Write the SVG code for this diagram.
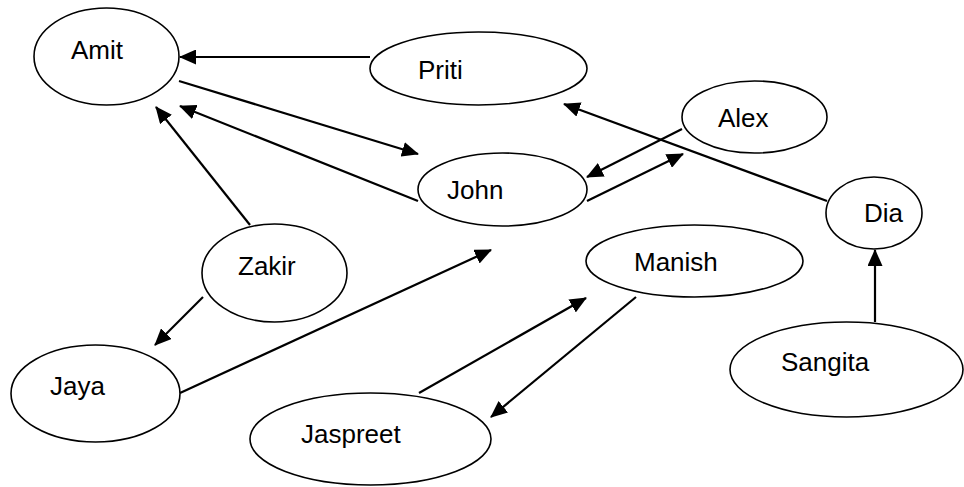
<svg xmlns="http://www.w3.org/2000/svg" width="964" height="487" viewBox="0 0 964 487">
<style>
.node ellipse{fill:#fff;stroke:#000;stroke-width:1.6}
.node text{font-family:"Liberation Sans","Open Sans",sans-serif;font-size:26px;fill:#000}
#edges line{stroke:#000;stroke-width:2.2;marker-end:url(#arr)}
</style>
<defs>
<marker id="arr" viewBox="0 0 17 15" refX="16" refY="7.5" markerWidth="17" markerHeight="15" markerUnits="userSpaceOnUse" orient="auto">
<path d="M0,0 L17,7.5 L0,15 Z" fill="#000"/>
</marker>
</defs>
<rect width="964" height="487" fill="#fff"/>
<g id="nodes">
<g id="amit" class="node"><ellipse cx="106.5" cy="56.5" rx="72.5" ry="48.5"/><text x="71" y="59">Amit</text></g>
<g id="priti" class="node"><ellipse cx="478.5" cy="68.5" rx="108.5" ry="36.5"/><text x="418" y="79">Priti</text></g>
<g id="john" class="node"><ellipse cx="502.5" cy="189.5" rx="84.5" ry="36.5"/><text x="447" y="199">John</text></g>
<g id="alex" class="node"><ellipse cx="754.5" cy="117" rx="72.5" ry="36"/><text x="718" y="127">Alex</text></g>
<g id="dia" class="node"><ellipse cx="874" cy="213" rx="48" ry="36"/><text x="864" y="222">Dia</text></g>
<g id="zakir" class="node"><ellipse cx="274.5" cy="273" rx="72.5" ry="49"/><text x="238" y="275">Zakir</text></g>
<g id="jaya" class="node"><ellipse cx="95.5" cy="393.5" rx="84.5" ry="48.5"/><text x="50" y="395">Jaya</text></g>
<g id="jaspreet" class="node"><ellipse cx="370.5" cy="439" rx="120.5" ry="46"/><text x="301" y="443">Jaspreet</text></g>
<g id="manish" class="node"><ellipse cx="694.5" cy="261" rx="108.5" ry="36"/><text x="634" y="271">Manish</text></g>
<g id="sangita" class="node"><ellipse cx="846.5" cy="369.5" rx="116.5" ry="47.5"/><text x="781" y="371">Sangita</text></g>
</g>
<g id="edges">
<line x1="370" y1="57" x2="180" y2="57"/>
<line x1="179" y1="81" x2="418" y2="154"/>
<line x1="418" y1="201" x2="180" y2="106"/>
<line x1="250" y1="225" x2="156" y2="107"/>
<line x1="682" y1="129" x2="587" y2="177"/>
<line x1="587" y1="201" x2="683" y2="154"/>
<line x1="827" y1="201" x2="564" y2="104"/>
<line x1="203" y1="297" x2="155" y2="345"/>
<line x1="180" y1="393" x2="491" y2="250"/>
<line x1="419" y1="393" x2="586" y2="298"/>
<line x1="636" y1="297" x2="491" y2="417"/>
<line x1="875" y1="322" x2="875" y2="250"/>
</g>
</svg>
